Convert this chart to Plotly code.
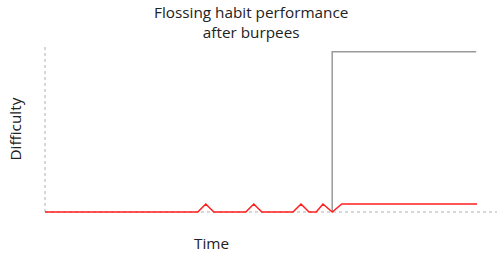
import plotly.graph_objects as go

# Data (x in days, y in difficulty units)
red_x = [0, 19.1, 20.1, 21.1, 25.1, 26.1, 27.1, 31.0, 32.0, 33.0, 33.9, 34.75, 35.9, 37.1, 54.0]
red_y = [0, 0, 1, 0, 0, 1, 0, 0, 1, 0, 0, 1, 0, 1, 1]
gray_x = [35.9, 35.9, 53.9]
gray_y = [0, 20, 20]

FS = 15.3

fig = go.Figure()
fig.add_trace(go.Scatter(x=gray_x, y=gray_y, mode="lines",
                         line=dict(color="#9a9a9a", width=1.5), showlegend=False))
fig.add_trace(go.Scatter(x=red_x, y=red_y, mode="lines",
                         line=dict(color="rgb(255,30,30)", width=1.5), showlegend=False))

fig.update_layout(
    width=502, height=254,
    margin=dict(l=45, r=5, t=45, b=40),
    paper_bgcolor="white", plot_bgcolor="white",
    font=dict(family="Open Sans", color="#222"),
    xaxis=dict(range=[0, 56.5], showgrid=False, zeroline=False, showticklabels=False,
               ticks="", showline=False),
    yaxis=dict(range=[-0.25, 20.85], showgrid=False, zeroline=False, showticklabels=False,
               ticks="", showline=False),
    shapes=[
        dict(type="line", xref="paper", yref="y", x0=0, x1=1, y0=0, y1=0,
             line=dict(color="#b0b0b0", width=1, dash="dot"), layer="below"),
        dict(type="line", xref="paper", yref="y", x0=0, x1=0, y0=0, y1=20.85,
             line=dict(color="#cccccc", width=1.5, dash="dot"), layer="below"),
    ],
    annotations=[
        dict(text="Flossing habit performance<br>after burpees", xref="paper", yref="paper",
             x=(251 - 45) / 452, y=1, xanchor="center", yanchor="bottom", yshift=1,
             showarrow=False, font=dict(size=FS, family="Open Sans", color="#222")),
        dict(text="Time", xref="paper", yref="paper", x=(211 - 45) / 452, y=0,
             xanchor="center", yanchor="middle", yshift=-29, showarrow=False,
             font=dict(size=FS, family="Open Sans", color="#222")),
        dict(text="Difficulty", xref="paper", yref="paper", x=0, y=0.5,
             xanchor="center", yanchor="middle", xshift=-31, textangle=-90, showarrow=False,
             font=dict(size=FS, family="Open Sans", color="#222")),
    ],
)

fig.write_html("out.html")
